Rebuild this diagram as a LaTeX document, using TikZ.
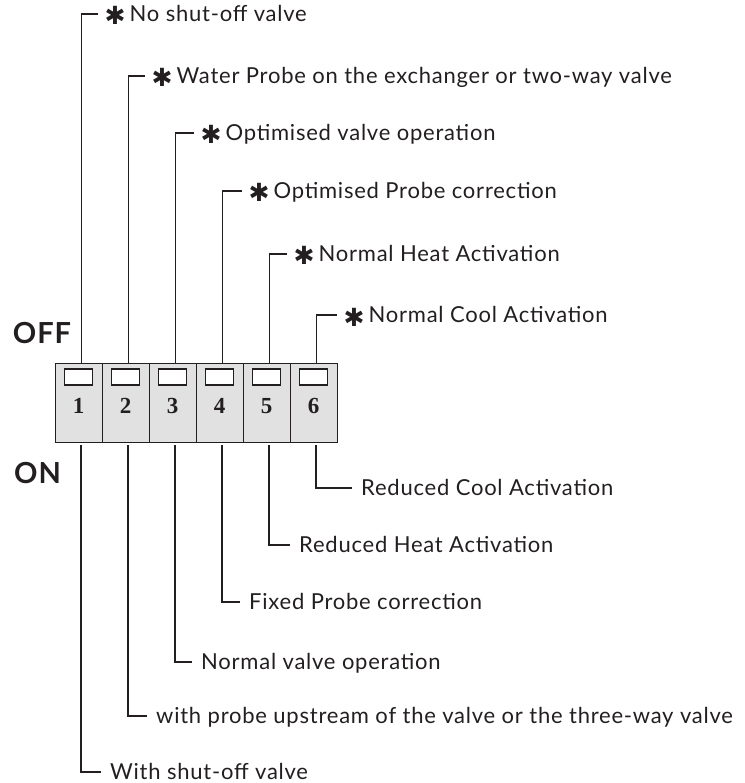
\documentclass[tikz,border=0pt]{standalone}
\usepackage{fontspec}
\setmainfont{Lato}[LetterSpace=3.5]
\newfontfamily\numfont{Liberation Serif}
\newfontfamily\symfont{DejaVu Sans}
\usetikzlibrary{calc}

\definecolor{cellgray}{HTML}{E1E1E1}
\definecolor{inkdark}{HTML}{231F20}

\newcommand\astk{{\symfont\fontsize{25}{25}\selectfont\raisebox{-3.5pt}{✱}}\hspace{4pt}}

\tikzset{
  cell/.style={draw=inkdark, fill=cellgray, minimum width=47pt,
    minimum height=79pt, inner sep=0pt, line width=0.8pt},
  window/.style={draw=inkdark, fill=white, minimum width=28pt,
    minimum height=16pt, inner sep=0pt, line width=1.2pt},
  num/.style={text=inkdark, font=\numfont\bfseries\fontsize{23}{23}\selectfont},
  lead/.style={draw=inkdark, line width=1.3pt},
  offtxt/.style={anchor=west, inner xsep=7pt, inner ysep=0pt,
    text height=15pt, text depth=0pt, text=inkdark,
    font=\fontsize{22}{22}\selectfont},
  ontxt/.style={offtxt, inner xsep=9pt},
  state/.style={text=inkdark, font=\bfseries\fontsize{29}{29}\selectfont}
}

\begin{document}
\begin{tikzpicture}[x=1pt, y=-1pt]
  \useasboundingbox (0,0) rectangle (744,783);

  % the six switches
  \foreach \i in {1,...,6} {
    \node[cell] (s\i) at ({31.5+47*\i},402.5) {};
    \node[window] (w\i) at ({31.5+47*\i},377) {};
    \node[num] (n\i) at ({31.5+47*\i},406) {\i};
  }

  \node[state] (off) at (42,333) {OFF};
  \node[state] (on) at (37.5,473.5) {ON};

  % OFF side
  \foreach \i/\y/\len/\txt in {
      1/14/16/No shut-off valve,
      2/76/16/Water Probe on the exchanger or two-way valve,
      3/133/18/Optimised valve operation,
      4/191/19/Optimised Probe correction,
      5/254/17/Normal Heat Activation,
      6/315/20/Normal Cool Activation} {
    \node[offtxt] (off\i) at ({34.5+47*\i+\len},\y) {\astk\txt};
    \draw[lead] ([xshift=3pt]s\i.north) |- (off\i.west);
  }

  % ON side
  \foreach \i/\y/\len/\txt in {
      1/772/20/With shut-off valve,
      2/716/19/with probe upstream of the valve or the three-way valve,
      3/662/17/Normal valve operation,
      4/602/18/Fixed Probe correction,
      5/545/21/Reduced Heat Activation,
      6/488/36/Reduced Cool Activation} {
    \node[ontxt] (on\i) at ({34+47*\i+\len},\y) {\txt};
    \draw[lead] ([xshift=2.5pt,yshift=-3pt]s\i.south) |- (on\i.west);
  }
\end{tikzpicture}
\end{document}
